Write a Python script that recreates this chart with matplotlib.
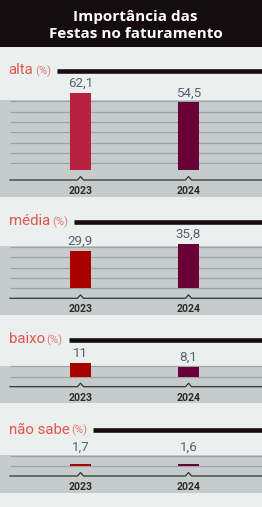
import matplotlib
matplotlib.use("Agg")
import matplotlib.pyplot as plt
from matplotlib.patches import Rectangle

# ---------------- data ----------------
title_lines = ["Importância das", "Festas no faturamento"]
categories = ["alta", "média", "baixo", "não sabe"]
unit_label = "(%)"
years = ["2023", "2024"]
values_2023 = [62.1, 29.9, 11, 1.7]
values_2024 = [54.5, 35.8, 8.1, 1.6]

# ---------------- style / layout ----------------
W, H, DPI = 262, 507, 100
BG = "#ebefee"
GRAY = "#c5cccb"
GRID = "#9ea4a4"
DARK = "#150d0e"
LABEL_C = "#e2574c"
UNIT_C = "#e77a73"
VALUE_C = "#56616f"
YEAR_C = "#2b2b2b"
COL_2023 = ["#b8203f", "#a80000", "#a80000", "#a80000"]
COL_2024 = "#6a0038"

S = 1.24            # pixels per percentage point
X0, XSTEP, BW = 80.5, 108.0, 21.0
head_px = [70.7, 221.5, 339.5, 430.3]     # centre of header rule
base_px = [170.0, 288.3, 376.7, 466.0]    # bar baseline
grid_offset = [5.4, 0.0, 0.0, 0.0]
grid_n = [7, 5, 2, 2]
GRID_STEP = 8.35

TXT_FONT = ["Roboto", "DejaVu Sans"]

fig = plt.figure(figsize=(W / DPI, H / DPI), dpi=DPI, facecolor=BG)

# title box
fig.patches.append(Rectangle((0, 1 - 46.7 / H), 1, 46.7 / H, transform=fig.transFigure,
                             facecolor="#140c0e", edgecolor="none", zorder=0))
for line, base in zip(title_lines, [20.7, 38.3]):
    fig.text(135.5 / W, 1 - base / H, line, ha="center", va="baseline", color="white",
             fontsize=11, fontweight="bold", family=["Open Sans", "DejaVu Sans"])


def xd(px):
    return (px - X0) / XSTEP


axes = []
for k, cat in enumerate(categories):
    B = base_px[k]
    top = head_px[k] - 14
    bot = B + 26.5
    ax = fig.add_axes([0, 1 - bot / H, 1, (bot - top) / H])
    ax.set_xlim(xd(0), xd(W))
    ax.set_ylim(-(bot - B) / S, (B - top) / S)
    ax.axis("off")
    ax.patch.set_alpha(0)

    grid_vals = [grid_offset[k] + i * GRID_STEP for i in range(grid_n[k])]
    gray_top = grid_vals[-1] + 0.6
    ax.axhspan(ax.get_ylim()[0], gray_top, color=GRAY, zorder=0, lw=0)
    ax.hlines(grid_vals, xd(10), xd(W), color=GRID, lw=0.9, zorder=1)

    vals = [values_2023[k], values_2024[k]]
    ax.bar([0, 1], vals, width=BW / XSTEP, color=[COL_2023[k], COL_2024],
           zorder=3, clip_on=False)
    for i, v in enumerate(vals):
        ax.annotate(f"{v:g}".replace(".", ","), (i, max(v, 7.5)), xytext=(0, 4.3),
                    textcoords="offset points", ha="center", va="baseline",
                    color=VALUE_C, fontsize=9.6, fontweight="normal", family=TXT_FONT,
                    annotation_clip=False, zorder=4)

    # axis line with carets
    ay = -10 / S
    ch = 3.5 / S
    hw = 3 / XSTEP
    xs, ys = [xd(10)], [ay]
    for i in range(len(years)):
        xs += [i - hw, i, i + hw]
        ys += [ay, ay + ch, ay]
    xs.append(xd(W))
    ys.append(ay)
    ax.plot(xs, ys, color="#333333", lw=0.9, zorder=2, solid_joinstyle="miter")
    for i, yr in enumerate(years):
        ax.text(i, -24 / S, yr, ha="center", va="baseline", color=YEAR_C,
                fontsize=7.6, fontweight="bold", family=TXT_FONT)

    # header
    hy = (B - head_px[k]) / S
    by = hy - 3.6 / S
    t1 = ax.text(xd(8.5), by, cat, ha="left", va="baseline", color=LABEL_C,
                 fontsize=10.8, fontweight="normal", family=TXT_FONT)
    axes.append((ax, t1, hy, by))

fig.canvas.draw()
r = fig.canvas.get_renderer()
for ax, t1, hy, by in axes:
    e = t1.get_window_extent(r)
    x_end = ax.transData.inverted().transform((e.x1, e.y0))[0]
    t2 = ax.text(x_end + 2.0 / XSTEP, by, unit_label, ha="left", va="baseline",
                 color=UNIT_C, fontsize=8.0, fontweight="normal", family=TXT_FONT)
    e2 = t2.get_window_extent(r)
    x_end2 = ax.transData.inverted().transform((e2.x1, e2.y0))[0]
    ax.plot([x_end2 + 6.0 / XSTEP, xd(W)], [hy, hy], color=DARK, lw=3.3,
            solid_capstyle="butt", zorder=2, clip_on=False)

fig.savefig("out.png", dpi=DPI, facecolor=BG)
